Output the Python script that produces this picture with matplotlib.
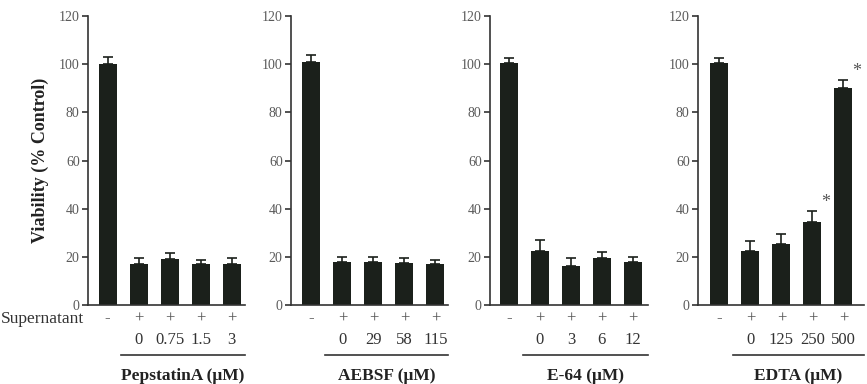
import matplotlib
matplotlib.use("Agg")
import matplotlib.pyplot as plt
import numpy as np

plt.rcParams['font.family'] = ['Liberation Serif', 'DejaVu Serif']

# data
groups = ["PepstatinA (\u03bcM)", "AEBSF (\u03bcM)", "E-64 (\u03bcM)", "EDTA (\u03bcM)"]
supernatant = ["-", "+", "+", "+", "+"]
conc_labels = [
    ["", "0", "0.75", "1.5", "3"],
    ["", "0", "29", "58", "115"],
    ["", "0", "3", "6", "12"],
    ["", "0", "125", "250", "500"],
]
values = [
    [100, 17, 19, 17, 17],
    [101, 18, 18, 17.5, 17],
    [100.5, 22.5, 16, 19.5, 18],
    [100.5, 22.5, 25.5, 34.5, 90],
]
errors = [
    [3, 2.5, 2.5, 1.5, 2.5],
    [3, 2, 2, 2, 1.5],
    [2, 4.5, 3.5, 2.5, 2],
    [2, 4, 4, 4.5, 3.5],
]
stars = [[], [], [], [3, 4]]

W, H = 867, 384
fig = plt.figure(figsize=(W / 100, H / 100), dpi=100)

bar_col = "#1b201b"
txt_col = "#333333"

# panel geometry in pixels: left spine, xlim
lefts = [88, 291, 490, 698]
xlims = [(-0.63, 4.42), (-0.66, 4.39), (-0.61, 4.48), (-0.69, 4.65)]
px_per_unit = 31.0
bottom_px, top_px = 305, 16

for i in range(4):
    x0, x1 = xlims[i]
    width_px = (x1 - x0) * px_per_unit
    ax = fig.add_axes([lefts[i] / W, (H - bottom_px) / H, width_px / W,
                       (bottom_px - top_px) / H])
    x = np.arange(5)
    ax.bar(x, values[i], width=0.58, color=bar_col, zorder=2)
    yerr = np.vstack([np.zeros(5), errors[i]])
    ax.errorbar(x, values[i], yerr=yerr, fmt="none", ecolor=bar_col,
                elinewidth=1.2, capsize=3.5, capthick=1.2, zorder=3)
    ax.set_xlim(x0, x1)
    ax.set_ylim(0, 120)
    ax.set_yticks(np.arange(0, 121, 20))
    ax.set_xticks([])
    for s in ["top", "right"]:
        ax.spines[s].set_visible(False)
    for s in ["left", "bottom"]:
        ax.spines[s].set_color("#333333")
        ax.spines[s].set_linewidth(1.2)
    ax.tick_params(axis="y", direction="out", length=4, width=1.2,
                   colors="#333333", labelsize=10, labelcolor="#5a5a5a", pad=2)

    for j in stars[i]:
        ax.text(j + 0.42, values[i][j] + errors[i][j] + 3.5, "*",
                ha="center", va="center", fontsize=13, color="#555555")

    tr = ax.get_xaxis_transform()
    for j in range(5):
        ax.text(j, -0.047, supernatant[j], transform=tr, ha="center",
                va="center", fontsize=12, color="#555555", clip_on=False)
        if conc_labels[i][j]:
            ax.text(j, -0.121, conc_labels[i][j], transform=tr, ha="center",
                    va="center", fontsize=12, color=txt_col, clip_on=False)
    ax.plot([0.45, x1], [-0.173, -0.173], transform=tr, color="#333333",
            lw=1.2, clip_on=False)
    ax.text((0.45 + x1) / 2, -0.246, groups[i], transform=tr, ha="center",
            va="center", fontsize=12.5, fontweight="bold", color="#222222",
            clip_on=False)

    if i == 0:
        ax.set_ylabel("Viability (% Control)", fontsize=13, fontweight="bold",
                      color="#222222", labelpad=7)
        ax.text(-0.555, -0.05, "Supernatant", transform=ax.transAxes,
                ha="left", va="center", fontsize=12.5, color=txt_col,
                clip_on=False)

fig.savefig("out.png", dpi=100)
